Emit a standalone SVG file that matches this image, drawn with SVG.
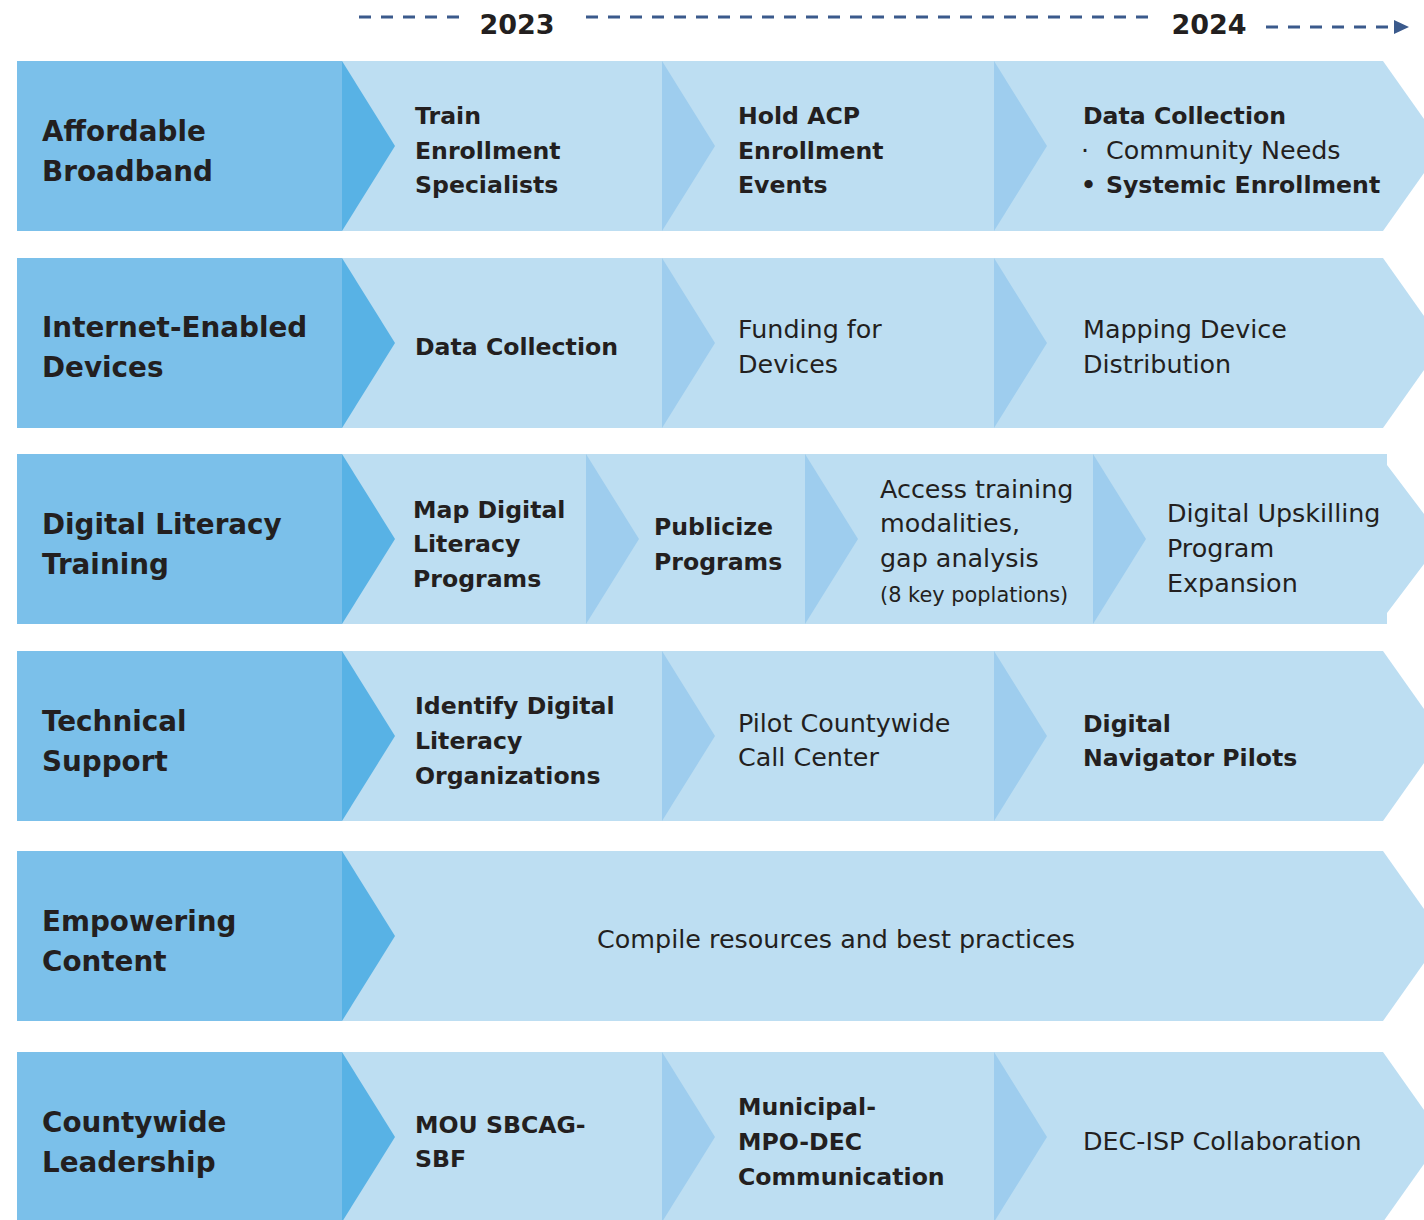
<svg xmlns="http://www.w3.org/2000/svg" width="1424" height="1220" viewBox="0 0 1424 1220">
<style>
text{fill:#231f20;font-family:"DejaVu Sans","Liberation Sans",sans-serif}
.lbl{font-weight:bold;font-size:27.8px}
.b{font-weight:bold;font-size:23.6px}
.r{font-size:25.4px}
.s{font-size:20.9px}
.yr{font-weight:bold;font-size:27px}
.box{fill:#7bc0ea}
.tri{fill:#58b2e5}
.band{fill:#bddef2}
.in{fill:#9ecdee}
.dash{stroke:#3b5a8c;stroke-width:3;stroke-dasharray:12 10;fill:none}
</style>
<g id="timeline">
<line class="dash" x1="359" y1="17" x2="460" y2="17"/>
<text class="yr" x="517" y="34" text-anchor="middle">2023</text>
<line class="dash" x1="586" y1="17" x2="1150" y2="17"/>
<text class="yr" x="1209" y="34" text-anchor="middle">2024</text>
<line class="dash" x1="1266" y1="27" x2="1396" y2="27"/>
<polygon points="1394,20 1409,27 1394,34" fill="#3b5a8c"/>
</g>
<g id="row1">
<polygon class="band" points="342,61 1383,61 1443,146 1383,231 342,231"/>
<rect class="box" x="17" y="61" width="325" height="170"/>
<polygon class="tri" points="342,61 395,146 342,231"/>
<polygon class="in" points="662,61 715,146 662,231"/>
<polygon class="in" points="994,61 1047,146 994,231"/>
<text class="lbl" x="42" y="141">Affordable</text>
<text class="lbl" x="42" y="181">Broadband</text>
<text class="b" x="415" y="124">Train</text>
<text class="b" x="415" y="159">Enrollment</text>
<text class="b" x="415" y="193">Specialists</text>
<text class="b" x="738" y="124">Hold ACP</text>
<text class="b" x="738" y="159">Enrollment</text>
<text class="b" x="738" y="193">Events</text>
<text class="b" x="1083" y="124">Data Collection</text>
<text class="r" x="1081" y="159">·</text>
<text class="r" x="1106" y="159">Community Needs</text>
<text class="b" x="1081" y="193">•</text>
<text class="b" x="1106" y="193">Systemic Enrollment</text>
</g>
<g id="row2">
<polygon class="band" points="342,258 1383,258 1443,343 1383,428 342,428"/>
<rect class="box" x="17" y="258" width="325" height="170"/>
<polygon class="tri" points="342,258 395,343 342,428"/>
<polygon class="in" points="662,258 715,343 662,428"/>
<polygon class="in" points="994,258 1047,343 994,428"/>
<text class="lbl" x="42" y="337">Internet-Enabled</text>
<text class="lbl" x="42" y="377">Devices</text>
<text class="b" x="415" y="355">Data Collection</text>
<text class="r" x="738" y="338">Funding for</text>
<text class="r" x="738" y="373">Devices</text>
<text class="r" x="1083" y="338">Mapping Device</text>
<text class="r" x="1083" y="373">Distribution</text>
</g>
<g id="row3">
<polygon class="band" points="342,454 1387,454 1387,465 1443,539 1387,613 1387,624 342,624"/>
<rect class="box" x="17" y="454" width="325" height="170"/>
<polygon class="tri" points="342,454 395,539 342,624"/>
<polygon class="in" points="586,454 639,539 586,624"/>
<polygon class="in" points="805,454 858,539 805,624"/>
<polygon class="in" points="1093,454 1146,539 1093,624"/>
<text class="lbl" x="42" y="534">Digital Literacy</text>
<text class="lbl" x="42" y="574">Training</text>
<text class="b" x="413" y="518">Map Digital</text>
<text class="b" x="413" y="552">Literacy</text>
<text class="b" x="413" y="587">Programs</text>
<text class="b" x="654" y="535">Publicize</text>
<text class="b" x="654" y="570">Programs</text>
<text class="r" x="880" y="498">Access training</text>
<text class="r" x="880" y="532">modalities,</text>
<text class="r" x="880" y="567">gap analysis</text>
<text class="s" x="880" y="602">(8 key poplations)</text>
<text class="r" x="1167" y="522">Digital Upskilling</text>
<text class="r" x="1167" y="557">Program</text>
<text class="r" x="1167" y="592">Expansion</text>
</g>
<g id="row4">
<polygon class="band" points="342,651 1383,651 1443,736 1383,821 342,821"/>
<rect class="box" x="17" y="651" width="325" height="170"/>
<polygon class="tri" points="342,651 395,736 342,821"/>
<polygon class="in" points="662,651 715,736 662,821"/>
<polygon class="in" points="994,651 1047,736 994,821"/>
<text class="lbl" x="42" y="731">Technical</text>
<text class="lbl" x="42" y="771">Support</text>
<text class="b" x="415" y="714">Identify Digital</text>
<text class="b" x="415" y="749">Literacy</text>
<text class="b" x="415" y="784">Organizations</text>
<text class="r" x="738" y="732">Pilot Countywide</text>
<text class="r" x="738" y="766">Call Center</text>
<text class="b" x="1083" y="732">Digital</text>
<text class="b" x="1083" y="766">Navigator Pilots</text>
</g>
<g id="row5">
<polygon class="band" points="342,851 1383,851 1443,936 1383,1021 342,1021"/>
<rect class="box" x="17" y="851" width="325" height="170"/>
<polygon class="tri" points="342,851 395,936 342,1021"/>
<text class="lbl" x="42" y="931">Empowering</text>
<text class="lbl" x="42" y="971">Content</text>
<text class="r" x="836" y="948" text-anchor="middle">Compile resources and best practices</text>
</g>
<g id="row6">
<polygon class="band" points="342,1052 1383,1052 1443,1137 1383,1222 342,1222"/>
<rect class="box" x="17" y="1052" width="325" height="170"/>
<polygon class="tri" points="342,1052 395,1137 342,1222"/>
<polygon class="in" points="662,1052 715,1137 662,1222"/>
<polygon class="in" points="994,1052 1047,1137 994,1222"/>
<text class="lbl" x="42" y="1132">Countywide</text>
<text class="lbl" x="42" y="1172">Leadership</text>
<text class="b" x="415" y="1133">MOU SBCAG-</text>
<text class="b" x="415" y="1167">SBF</text>
<text class="b" x="738" y="1115">Municipal-</text>
<text class="b" x="738" y="1150">MPO-DEC</text>
<text class="b" x="738" y="1185">Communication</text>
<text class="r" x="1083" y="1150">DEC-ISP Collaboration</text>
</g>
</svg>
